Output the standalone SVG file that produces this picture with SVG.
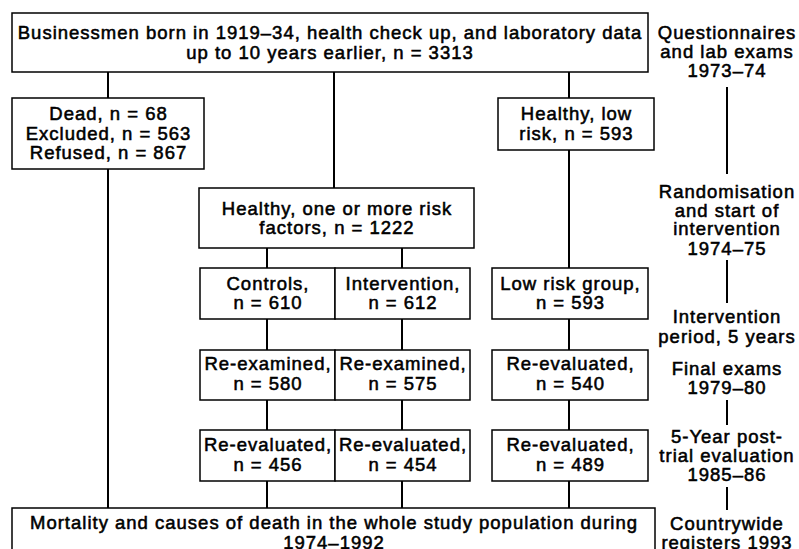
<svg xmlns="http://www.w3.org/2000/svg" width="799" height="549" viewBox="0 0 799 549">
<style>
.bx{fill:#fff;stroke:#000;stroke-width:1.5}
.cn{stroke:#000;stroke-width:2;fill:none}
text{font-family:"Liberation Sans",Arial,sans-serif;font-size:18.5px;letter-spacing:1px;fill:#000;stroke:#000;stroke-width:0.55;text-anchor:middle}
</style>
<rect width="799" height="549" fill="#fff"/>
<g id="connectors">
<line class="cn" x1="108" y1="72" x2="108" y2="98"/>
<line class="cn" x1="108" y1="169" x2="108" y2="508"/>
<line class="cn" x1="334" y1="72" x2="334" y2="188"/>
<line class="cn" x1="569" y1="72" x2="569" y2="98"/>
<line class="cn" x1="569" y1="150" x2="569" y2="268"/>
<line class="cn" x1="267" y1="248" x2="267" y2="268"/>
<line class="cn" x1="402" y1="248" x2="402" y2="268"/>
<line class="cn" x1="267" y1="319" x2="267" y2="350"/>
<line class="cn" x1="402" y1="319" x2="402" y2="350"/>
<line class="cn" x1="569" y1="319" x2="569" y2="350"/>
<line class="cn" x1="267" y1="400" x2="267" y2="430"/>
<line class="cn" x1="402" y1="400" x2="402" y2="430"/>
<line class="cn" x1="569" y1="400" x2="569" y2="430"/>
<line class="cn" x1="267" y1="481" x2="267" y2="508"/>
<line class="cn" x1="402" y1="481" x2="402" y2="508"/>
<line class="cn" x1="569" y1="481" x2="569" y2="508"/>
<line class="cn" x1="727" y1="87" x2="727" y2="174"/>
<line class="cn" x1="727" y1="260" x2="727" y2="303"/>
<line class="cn" x1="727" y1="400" x2="727" y2="425"/>
<line class="cn" x1="727" y1="487" x2="727" y2="510"/>
</g>
<g id="top">
<rect class="bx" x="12" y="13" width="636" height="59"/>
<text x="330" y="39">Businessmen born in 1919–34, health check up, and laboratory data</text>
<text x="330" y="59">up to 10 years earlier, n = 3313</text>
</g>
<g id="excluded">
<rect class="bx" x="12" y="98" width="192" height="71"/>
<text x="108.5" y="120">Dead, n = 68</text>
<text x="108.5" y="140">Excluded, n = 563</text>
<text x="108.5" y="159">Refused, n = 867</text>
</g>
<g id="lowrisk">
<rect class="bx" x="498" y="98" width="156" height="52"/>
<text x="576.5" y="120">Healthy, low</text>
<text x="576.5" y="140">risk, n = 593</text>
</g>
<g id="riskfactors">
<rect class="bx" x="199" y="188" width="275" height="60"/>
<text x="337" y="215">Healthy, one or more risk</text>
<text x="337" y="234">factors, n = 1222</text>
</g>
<g id="controls">
<rect class="bx" x="200" y="268" width="135" height="51"/>
<text x="268" y="290">Controls,</text>
<text x="268" y="309">n = 610</text>
</g>
<g id="intervention">
<rect class="bx" x="335" y="268" width="135" height="51"/>
<text x="403" y="290">Intervention,</text>
<text x="403" y="309">n = 612</text>
</g>
<g id="lowriskgroup">
<rect class="bx" x="492" y="268" width="156" height="51"/>
<text x="570.5" y="290">Low risk group,</text>
<text x="570.5" y="309">n = 593</text>
</g>
<g id="reexam-c">
<rect class="bx" x="200" y="350" width="135" height="50"/>
<text x="268" y="370">Re-examined,</text>
<text x="268" y="390">n = 580</text>
</g>
<g id="reexam-i">
<rect class="bx" x="335" y="350" width="135" height="50"/>
<text x="403" y="370">Re-examined,</text>
<text x="403" y="390">n = 575</text>
</g>
<g id="reeval-l1">
<rect class="bx" x="492" y="350" width="156" height="50"/>
<text x="570.5" y="370">Re-evaluated,</text>
<text x="570.5" y="390">n = 540</text>
</g>
<g id="reeval-c">
<rect class="bx" x="200" y="430" width="135" height="51"/>
<text x="268" y="451">Re-evaluated,</text>
<text x="268" y="471">n = 456</text>
</g>
<g id="reeval-i">
<rect class="bx" x="335" y="430" width="135" height="51"/>
<text x="403" y="451">Re-evaluated,</text>
<text x="403" y="471">n = 454</text>
</g>
<g id="reeval-l2">
<rect class="bx" x="492" y="430" width="156" height="51"/>
<text x="570.5" y="451">Re-evaluated,</text>
<text x="570.5" y="471">n = 489</text>
</g>
<g id="mortality">
<rect class="bx" x="12" y="508" width="643" height="60"/>
<text x="334" y="529">Mortality and causes of death in the whole study population during</text>
<text x="334" y="549">1974–1992</text>
</g>
<g id="timeline">
<text x="727" y="39">Questionnaires</text>
<text x="727" y="58">and lab exams</text>
<text x="727" y="77">1973–74</text>
<text x="727" y="198">Randomisation</text>
<text x="727" y="217">and start of</text>
<text x="727" y="235">intervention</text>
<text x="727" y="255">1974–75</text>
<text x="727" y="323">Intervention</text>
<text x="727" y="343">period, 5 years</text>
<text x="727" y="375">Final exams</text>
<text x="727" y="394">1979–80</text>
<text x="727" y="443">5-Year post-</text>
<text x="727" y="462">trial evaluation</text>
<text x="727" y="481">1985–86</text>
<text x="727" y="530">Countrywide</text>
<text x="727" y="549">registers 1993</text>
</g>
</svg>
